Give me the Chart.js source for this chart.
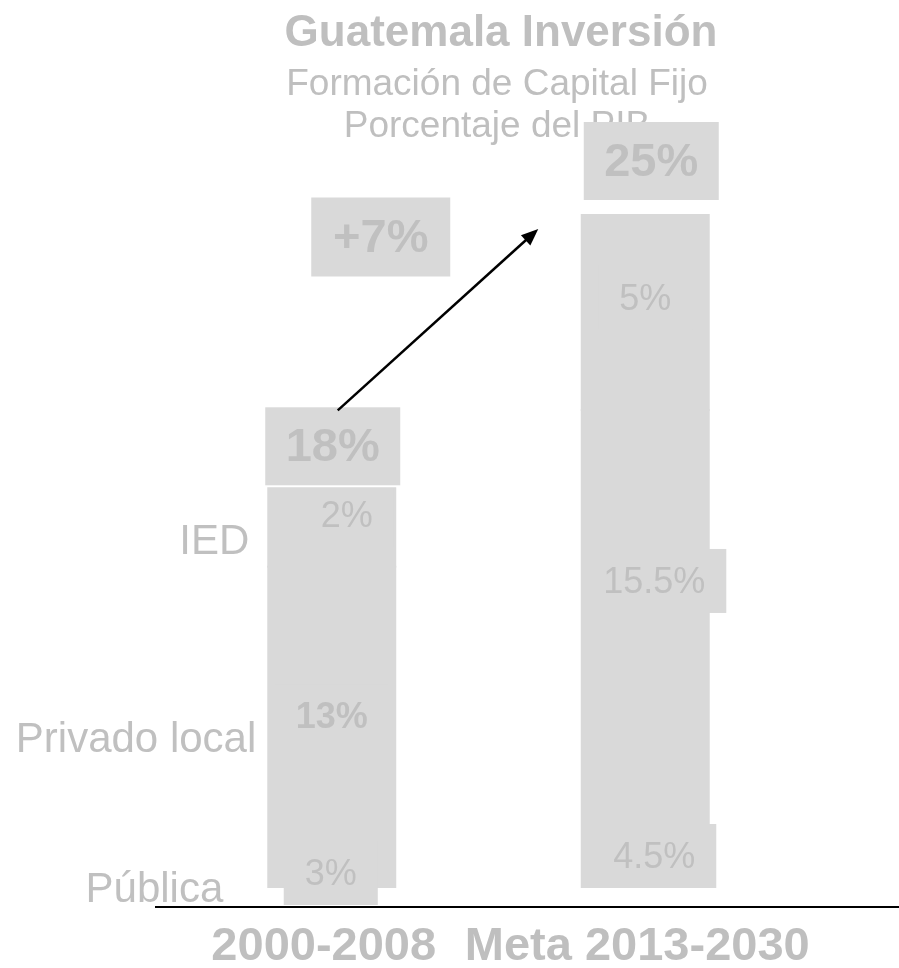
<!DOCTYPE html>
<html>
<head>
<meta charset="utf-8">
<script src="https://cdn.jsdelivr.net/npm/chart.js@4.4.1/dist/chart.umd.min.js"></script>
<style>
  body { margin: 0; background: #fff; }
  #wrap { width: 899px; height: 968px; position: relative; }
</style>
</head>
<body>
<div id="wrap"><canvas id="chart"></canvas></div>
<script>
// data
const periods = ["2000-2008", "Meta 2013-2030"];
const seriesNames = ["Pública", "Privado local", "IED"];
const publica = [3, 4.5];
const privadoLocal = [13, 15.5];
const ied = [2, 5];
const titleLines = ["Guatemala Inversión", "Formación de Capital Fijo", "Porcentaje del PIB"];

const series = [publica, privadoLocal, ied];
const totals = periods.map((p, i) => series.reduce((s, d) => s + d[i], 0));

const FONT = "'Liberation Sans', Arial, sans-serif";
const BAR = "#d9d9d9";
const TXT = "#c0c0c0";

function pct(v) { return v + "%"; }

function drawBoxLabel(ctx, text, cx, cy, font, w, h, minTop) {
  ctx.font = font;
  const tw = ctx.measureText(text).width;
  const bw = w || tw + 42;
  let top = cy - h / 2;
  if (minTop !== undefined && top < minTop) top = minTop;
  ctx.fillStyle = BAR;
  ctx.fillRect(cx - bw / 2, top, bw, cy + h / 2 - top);
  ctx.fillStyle = TXT;
  ctx.textAlign = "center";
  ctx.textBaseline = "middle";
  ctx.fillText(text, cx, cy + 2);
}

// small hand tweaks so the labels sit where the original put them
const tweak = {
  "0-0": [-1, -15], "0-1": [9, -32],
  "1-0": [0, -11], "1-1": [9, -68],
  "2-0": [15, -12], "2-1": [0, -14]
};

const labelsPlugin = {
  id: "labels",
  beforeDraw(chart) {
    const ctx = chart.ctx;
    ctx.save();
    ctx.fillStyle = "#bfbfbf";
    ctx.textAlign = "center";
    ctx.textBaseline = "alphabetic";
    ctx.font = "bold 44px " + FONT;
    ctx.fillText(titleLines[0], 501, 46);
    ctx.font = "37px " + FONT;
    ctx.fillText(titleLines[1], 497, 95);
    ctx.fillText(titleLines[2], 497, 137);
    ctx.restore();
  },
  afterDraw(chart) {
    const ctx = chart.ctx;
    const area = chart.chartArea;
    const tops = periods.map((p, i) => chart.getDatasetMeta(2).data[i]);
    ctx.save();

    // value labels in each segment
    series.forEach((data, ds) => {
      const meta = chart.getDatasetMeta(ds);
      data.forEach((v, i) => {
        const el = meta.data[i];
        const top = Math.max(el.y, area.top);
        const base = Math.min(el.base, area.bottom);
        const cy = ds === 0 ? area.bottom : (top + base) / 2;
        const t = tweak[ds + "-" + i];
        const bold = ds === 1 && i === 0;
        drawBoxLabel(ctx, pct(v), el.x + t[0], cy + t[1],
          (bold ? "bold " : "") + "36px " + FONT, 0, 64, tops[i].y);
      });
    });

    // series names beside the first bar
    const m0 = chart.getDatasetMeta(0).data[0];
    const m1 = chart.getDatasetMeta(1).data[0];
    const m2 = chart.getDatasetMeta(2).data[0];
    const left = m0.x - m0.width / 2;
    ctx.font = "42px " + FONT;
    ctx.fillStyle = TXT;
    ctx.textAlign = "right";
    ctx.textBaseline = "middle";
    ctx.fillText(seriesNames[2], left - 19, (m2.y + m2.base) / 2 + 15);
    ctx.fillText(seriesNames[1], left - 12, (Math.max(m1.y, area.top) + area.bottom) / 2 + 13);
    ctx.fillText(seriesNames[0], left - 45, area.bottom + 2);

    // totals above the bars
    const big = "bold 47px " + FONT;
    drawBoxLabel(ctx, pct(totals[0]), tops[0].x + 1, tops[0].y - 42, big, 135, 78);
    drawBoxLabel(ctx, pct(totals[1]), tops[1].x + 6, tops[1].y - 53, big, 135, 78);

    // change between periods
    drawBoxLabel(ctx, "+" + pct(totals[1] - totals[0]), tops[0].x + 49, tops[1].y + 23, big, 139, 79);

    // arrow
    const x0 = tops[0].x + 6, y0 = tops[0].y - 78;
    const x1 = tops[1].x - 107, y1 = tops[1].y + 15;
    const ang = Math.atan2(y1 - y0, x1 - x0);
    ctx.strokeStyle = "#000";
    ctx.fillStyle = "#000";
    ctx.lineWidth = 2.5;
    ctx.beginPath();
    ctx.moveTo(x0, y0);
    ctx.lineTo(x1 - 12 * Math.cos(ang), y1 - 12 * Math.sin(ang));
    ctx.stroke();
    ctx.beginPath();
    ctx.moveTo(x1, y1);
    ctx.lineTo(x1 - 17 * Math.cos(ang) + 7 * Math.sin(ang), y1 - 17 * Math.sin(ang) - 7 * Math.cos(ang));
    ctx.lineTo(x1 - 17 * Math.cos(ang) - 7 * Math.sin(ang), y1 - 17 * Math.sin(ang) + 7 * Math.cos(ang));
    ctx.closePath();
    ctx.fill();

    // base line
    ctx.strokeStyle = "#000";
    ctx.lineWidth = 2;
    ctx.beginPath();
    ctx.moveTo(155, area.bottom + 19);
    ctx.lineTo(chart.width, area.bottom + 19);
    ctx.stroke();
    ctx.restore();
  }
};

new Chart(document.getElementById("chart"), {
  type: "bar",
  data: {
    labels: periods,
    datasets: seriesNames.map((name, k) => ({
      label: name,
      data: series[k],
      backgroundColor: BAR,
      borderWidth: 0,
      inflateAmount: 1,
      categoryPercentage: 1,
      barPercentage: 0.405
    }))
  },
  options: {
    responsive: true,
    maintainAspectRatio: false,
    animation: false,
    layout: { padding: { top: 214, left: 175, right: 97, bottom: -39 } },
    plugins: { legend: { display: false }, tooltip: { enabled: false } },
    scales: {
      x: {
        stacked: true,
        grid: { display: false, drawTicks: false },
        border: { display: false },
        ticks: {
          color: "#bfbfbf",
          padding: 36,
          labelOffset: -8,
          maxRotation: 0,
          minRotation: 0,
          autoSkip: false,
          font: { family: FONT, size: 47, weight: "bold", lineHeight: 1 }
        }
      },
      y: {
        stacked: true,
        display: false,
        min: 7.8,
        max: 25
      }
    }
  },
  plugins: [labelsPlugin]
});
</script>
</body>
</html>
